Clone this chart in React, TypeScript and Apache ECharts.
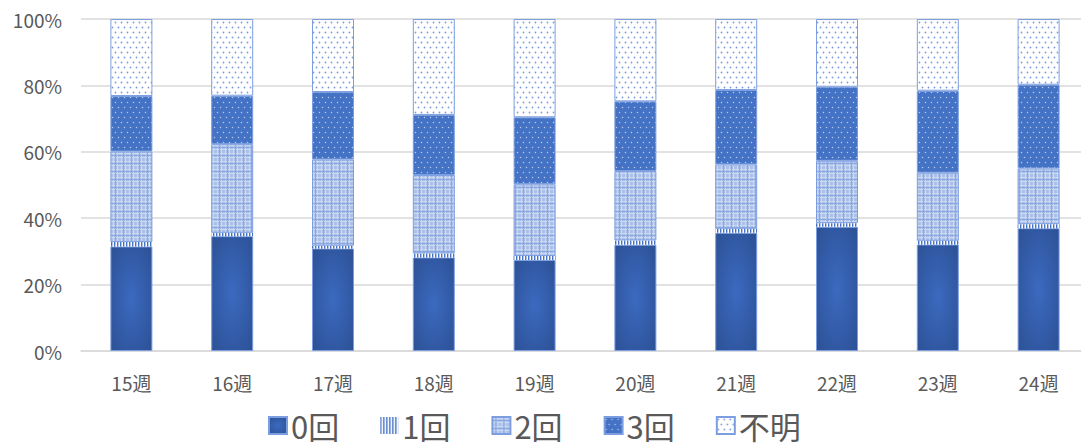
import React, { useEffect, useRef } from "react";
import * as echarts from "echarts";

const categories = ["15週", "16週", "17週", "18週", "19週", "20週", "21週", "22週", "23週", "24週"];
const seriesNames = ["0回", "1回", "2回", "3回", "不明"];
const zero = [31.5, 34.6, 30.9, 28.2, 27.4, 32.0, 35.6, 37.4, 32.1, 37.0];
const one = [1.3, 1.0, 0.8, 1.2, 1.2, 1.3, 1.2, 1.1, 1.1, 1.2];
const two = [27.3, 26.7, 26.0, 23.6, 21.6, 20.9, 19.4, 18.8, 20.5, 16.8];
const three = [16.7, 14.6, 20.3, 18.1, 20.2, 21.0, 22.4, 22.3, 24.7, 25.2];
const unknown = [23.2, 23.1, 22.0, 28.9, 29.6, 24.8, 21.4, 20.4, 21.6, 19.8];
const yTicks = [0, 20, 40, 60, 80, 100];

function tile(w: number, h: number, draw: (ctx: CanvasRenderingContext2D) => void) {
  const c = document.createElement("canvas");
  c.width = w;
  c.height = h;
  const ctx = c.getContext("2d")!;
  draw(ctx);
  return { image: c, repeat: "repeat", imageWidth: w, imageHeight: h } as any;
}

function dots(bg: string, dot: string, r: number) {
  return tile(6, 10, (ctx) => {
    ctx.fillStyle = bg;
    ctx.fillRect(0, 0, 6, 10);
    ctx.fillStyle = dot;
    ctx.beginPath();
    ctx.arc(1.5, 2.5, r, 0, Math.PI * 2);
    ctx.arc(4.5, 7.5, r, 0, Math.PI * 2);
    ctx.fill();
  });
}

export default function App() {
  const ref = useRef<HTMLDivElement>(null);
  useEffect(() => {
    if (!ref.current) return;
    const chart = echarts.init(ref.current, undefined, { renderer: "svg" });

    const stripes = tile(3, 3, (ctx) => {
      ctx.fillStyle = "#ffffff";
      ctx.fillRect(0, 0, 3, 3);
      ctx.fillStyle = "#4472c4";
      ctx.fillRect(0, 0, 1.4, 3);
    });
    const plaid = tile(8, 8, (ctx) => {
      ctx.fillStyle = "#aac0e9";
      ctx.fillRect(0, 0, 8, 8);
      ctx.fillStyle = "#cbd8f2";
      ctx.fillRect(1, 0, 1, 8);
      ctx.fillRect(5, 0, 1, 8);
      ctx.fillRect(0, 1, 8, 1);
      ctx.fillRect(0, 5, 8, 1);
      ctx.fillStyle = "#8ba8e0";
      ctx.fillRect(3, 0, 1, 8);
      ctx.fillRect(0, 3, 8, 1);
    });
    const dots3 = dots("#4472c4", "#b9cbef", 0.75);
    const dotsU = dots("#ffffff", "#7d9cdc", 0.9);
    const dark = {
      type: "radial",
      x: 0.5,
      y: 0.5,
      r: 0.75,
      colorStops: [
        { offset: 0, color: "#3c6ac0" },
        { offset: 1, color: "#2b4f92" },
      ],
    };

    const colors: any[] = [dark, stripes, plaid, dots3, dotsU];
    const values = [zero, one, two, three, unknown];
    const font = "'Noto Sans CJK JP', 'Noto Sans', sans-serif";

    chart.setOption({
      animation: false,
      grid: { left: 81, right: 0, top: 19, bottom: 96, containLabel: false },
      legend: {
        data: seriesNames,
        left: 263,
        top: 405,
        icon: "rect",
        itemWidth: 18,
        itemHeight: 17,
        itemGap: 41,
        textStyle: {
          fontSize: 31,
          lineHeight: 31,
          color: "#595959",
          fontFamily: font,
          padding: [0, 0, 0, -1],
        },
      },
      xAxis: {
        type: "category",
        data: categories,
        axisLine: { lineStyle: { color: "#d9d9d9", width: 1.5 } },
        axisTick: { show: false },
        axisLabel: { fontSize: 19, color: "#595959", fontFamily: font, margin: 22 },
      },
      yAxis: {
        type: "value",
        min: 0,
        max: 100,
        interval: 20,
        axisLine: { show: false },
        axisTick: { show: false },
        splitLine: { lineStyle: { color: "#d9d9d9", width: 1.5 } },
        axisLabel: {
          fontSize: 19,
          color: "#595959",
          fontFamily: font,
          margin: 19,
          formatter: (v: number) => (yTicks.includes(v) ? v + "%" : ""),
        },
      },
      series: seriesNames.map((name, i) => ({
        name,
        type: "bar",
        stack: "total",
        barWidth: 42,
        data: values[i],
        itemStyle: {
          color: colors[i],
          borderColor: i === 1 ? "transparent" : "#7c9ee0",
          borderWidth: i === 1 ? 0 : 1,
        },
      })),
    });
    return () => chart.dispose();
  }, []);

  return (
    <div
      style={{
        position: "absolute",
        left: 0,
        top: 0,
        width: 1081,
        height: 447,
        overflow: "hidden",
      }}
    >
      <div ref={ref} style={{ width: 1089, height: 447 }} />
    </div>
  );
}
